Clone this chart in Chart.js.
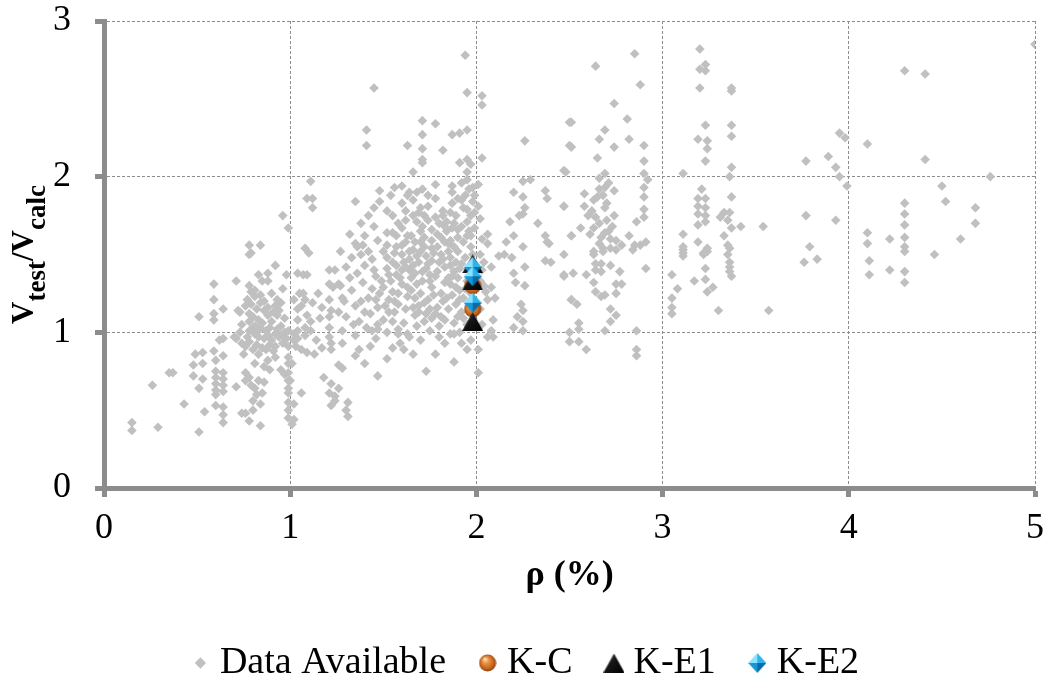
<!DOCTYPE html>
<html>
<head>
<meta charset="utf-8">
<title>Vtest/Vcalc vs ρ</title>
<script src="https://cdn.jsdelivr.net/npm/chart.js@4.4.1/dist/chart.umd.min.js"></script>
<style>
    html, body { margin: 0; padding: 0; background: #fff; }
    canvas { display: block; }
</style>
</head>
<body>
<canvas id="chart" width="1053" height="688"></canvas>
<script>
// Data Available: [rho (%), Vtest/Vcalc], split by rho band
const availRhoBelow1 = [
    [0.15, 0.42], [0.15, 0.37], [0.29, 0.39], [0.26, 0.66], [0.35, 0.74], [0.37, 0.74], [0.43, 0.54],
    [0.51, 0.36], [0.49, 0.86], [0.53, 0.87], [0.48, 0.79], [0.53, 0.80], [0.48, 0.72], [0.53, 0.70],
    [0.51, 0.64], [0.54, 0.49], [0.51, 1.10], [0.59, 1.31], [0.59, 1.21], [0.59, 1.12], [0.59, 1.08],
    [0.64, 1.15], [0.59, 0.88], [0.60, 0.82], [0.60, 0.75], [0.60, 0.71], [0.60, 0.67], [0.60, 0.63],
    [0.60, 0.60], [0.64, 0.74], [0.64, 0.70], [0.64, 0.66], [0.64, 0.62], [0.64, 0.52], [0.64, 0.47],
    [0.64, 0.42], [0.60, 0.53], [0.62, 0.95], [0.64, 0.96], [0.64, 0.85],
    [0.71, 0.96], [0.71, 0.65], [0.73, 1.13], [0.75, 0.86], [0.74, 0.48], [0.71, 1.33], [0.78, 1.50],
    [0.78, 1.56], [0.84, 1.56], [0.79, 1.51], [0.96, 1.75], [0.99, 1.67],
    [0.92, 1.43], [0.88, 1.38], [0.83, 1.37], [0.85, 1.33], [0.88, 1.33], [0.98, 1.37],
    [0.78, 1.30], [0.81, 1.27], [0.77, 1.21], [0.81, 1.23], [0.84, 1.24], [0.79, 1.18], [0.82, 1.15],
    [0.93, 1.21], [0.95, 1.19], [0.92, 1.17],
    [0.72, 1.14], [0.78, 1.12], [0.80, 1.10], [0.83, 1.08], [0.86, 1.14], [0.88, 1.11], [0.93, 1.11],
    [0.94, 1.14], [0.90, 1.07], [0.78, 1.07], [0.85, 1.06],
    [0.74, 1.05], [0.78, 1.01], [0.81, 0.99], [0.83, 1.01], [0.87, 1.01], [0.92, 0.99], [0.95, 0.98],
    [0.99, 1.01], [0.70, 0.97], [0.74, 0.93], [0.78, 0.94], [0.83, 0.97], [0.86, 0.96], [0.90, 0.95],
    [0.94, 0.97], [0.98, 0.96],
    [0.76, 0.91], [0.80, 0.89], [0.83, 0.86], [0.87, 0.89], [0.92, 0.91], [0.99, 0.91], [0.88, 0.82],
    [0.81, 0.80], [0.86, 0.78], [0.89, 0.76], [0.95, 0.76], [0.97, 0.73], [0.92, 0.84],
    [0.76, 0.74], [0.78, 0.71], [0.76, 0.69], [0.83, 0.69], [0.81, 0.64], [0.85, 0.61], [0.80, 0.56],
    [0.84, 0.54], [0.80, 0.50], [0.76, 0.48], [0.78, 0.43], [0.84, 0.40], [0.82, 0.60], [0.79, 0.66],
    [0.86, 0.68],
    [0.99, 0.84], [0.99, 0.80], [0.99, 0.74], [0.99, 0.69], [0.99, 0.64], [0.99, 0.61], [0.99, 0.55],
    [0.99, 0.50], [0.99, 0.45],
    [0.76, 1.17], [0.90, 1.25], [0.96, 1.28], [0.86, 1.20], [0.97, 1.09], [0.89, 1.03], [0.95, 1.04],
    [0.73, 1.00], [0.81, 1.04], [0.91, 0.88],
    [0.79, 1.26], [0.84, 1.19], [0.88, 1.16], [0.91, 1.13], [0.80, 1.03], [0.84, 1.03], [0.88, 0.98],
    [0.93, 1.02], [0.97, 1.00], [0.77, 0.97], [0.82, 0.92], [0.85, 0.90], [0.89, 0.92], [0.96, 0.93],
];

const availRho1to2 = [
    [1.02, 1.21], [1.05, 1.25], [1.07, 1.25], [1.08, 1.21], [1.06, 1.17], [1.04, 1.15], [1.12, 1.19],
    [1.04, 1.38], [1.07, 1.37], [1.09, 1.37], [1.08, 1.54], [1.10, 1.51], [1.11, 1.97], [1.09, 1.86],
    [1.12, 1.86], [1.12, 1.80],
    [1.09, 1.11], [1.11, 1.07], [1.08, 1.03], [1.04, 1.08], [1.02, 0.99], [1.04, 1.01], [1.02, 0.95],
    [1.04, 0.96], [1.08, 0.98], [1.11, 1.01], [1.03, 0.91], [1.06, 0.89], [1.09, 0.87], [1.13, 0.86],
    [1.01, 0.80], [1.00, 0.69], [1.06, 0.61], [1.02, 0.54], [1.02, 0.44], [1.01, 0.41],
    [1.21, 1.40], [1.21, 1.31], [1.23, 1.29], [1.21, 1.21], [1.22, 1.14], [1.21, 1.10], [1.21, 1.03],
    [1.21, 0.97], [1.22, 0.93], [1.22, 0.89], [1.26, 0.79], [1.22, 0.67], [1.21, 0.61], [1.22, 0.53],
    [1.26, 0.64], [1.26, 1.31], [1.28, 1.22], [1.26, 1.13],
    [1.15, 1.25], [1.17, 1.16], [1.16, 1.09], [1.14, 0.95], [1.17, 0.90], [1.18, 0.71], [1.24, 0.59],
    [1.28, 0.77], [1.30, 0.50], [1.31, 0.46], [1.31, 0.55], [1.24, 0.56],
    [1.45, 2.57], [1.41, 2.30], [1.41, 2.20], [1.71, 2.36], [1.78, 2.34], [1.71, 2.27], [1.87, 2.27],
    [1.91, 2.28], [1.95, 2.30], [1.63, 2.20], [1.71, 2.18], [1.71, 2.11], [1.71, 2.09], [1.82, 2.17],
    [1.66, 2.03], [1.91, 2.09], [1.95, 2.11], [1.97, 2.08], [1.94, 2.78], [1.95, 2.54],
    [1.48, 1.91], [1.56, 1.93], [1.54, 1.88], [1.48, 1.84], [1.63, 1.88], [1.66, 1.85], [1.60, 1.83],
    [1.62, 1.78], [1.71, 1.92], [1.78, 1.86], [1.35, 1.84], [1.52, 1.78], [1.55, 1.75], [1.82, 1.75],
    [1.68, 1.71], [1.71, 1.68], [1.32, 1.63], [1.35, 1.57], [1.39, 1.56], [1.47, 1.59], [1.52, 1.56],
    [1.55, 1.64], [1.60, 1.67], [1.63, 1.62], [1.67, 1.58], [1.72, 1.61], [1.76, 1.54], [1.79, 1.63],
    [1.85, 1.57], [1.90, 1.61], [1.95, 1.62],
    [1.95, 2.03], [1.95, 1.98], [1.96, 1.92], [1.94, 1.88], [1.92, 1.85], [1.95, 1.79], [1.97, 1.75],
    [1.95, 1.71], [1.99, 1.77], [1.87, 1.94], [1.87, 1.90], [1.87, 1.83], [1.90, 1.86], [1.86, 1.77],
    [1.89, 1.75], [1.84, 1.71], [1.87, 1.67], [1.99, 1.67],
    [1.58, 1.70], [1.62, 1.72], [1.66, 1.75], [1.70, 1.80], [1.74, 1.72], [1.76, 1.66], [1.80, 1.70],
    [1.82, 1.78], [1.68, 1.90], [1.60, 1.94], [1.64, 1.90], [1.74, 1.88], [1.78, 1.95], [1.92, 1.96],
    [1.98, 1.93], [1.99, 1.88], [1.98, 1.84], [1.93, 1.80], [1.96, 1.65], [1.92, 1.68], [1.88, 1.70],
    [1.84, 1.65], [1.70, 1.65], [1.72, 1.75],
    [1.27, 1.52], [1.33, 1.48], [1.38, 1.50], [1.44, 1.47], [1.50, 1.52], [1.55, 1.45], [1.60, 1.50],
    [1.64, 1.47], [1.70, 1.52], [1.76, 1.46], [1.81, 1.50], [1.86, 1.48], [1.90, 1.52],
    [1.24, 1.40], [1.30, 1.42], [1.36, 1.38], [1.40, 1.43], [1.46, 1.36], [1.52, 1.41], [1.57, 1.37],
    [1.62, 1.42], [1.67, 1.38], [1.73, 1.41], [1.78, 1.36], [1.83, 1.42], [1.88, 1.39], [1.92, 1.44],
    [1.27, 1.30], [1.33, 1.27], [1.39, 1.32], [1.44, 1.28], [1.49, 1.33], [1.55, 1.26], [1.60, 1.31],
    [1.65, 1.27], [1.71, 1.33], [1.76, 1.29], [1.81, 1.25], [1.86, 1.31], [1.91, 1.27],
    [1.29, 1.20], [1.35, 1.17], [1.42, 1.22], [1.47, 1.16], [1.53, 1.21], [1.58, 1.18], [1.63, 1.23],
    [1.69, 1.17], [1.74, 1.21], [1.79, 1.16], [1.84, 1.22], [1.89, 1.18],
    [1.30, 1.10], [1.37, 1.07], [1.43, 1.12], [1.50, 1.08], [1.56, 1.13], [1.61, 1.06], [1.67, 1.11],
    [1.72, 1.07], [1.78, 1.12], [1.83, 1.08], [1.90, 1.10],
    [1.28, 1.01], [1.35, 0.98], [1.41, 1.03], [1.46, 0.96], [1.52, 1.00], [1.58, 1.02], [1.64, 0.97],
    [1.75, 1.01], [1.86, 0.99],
    [1.44, 1.01], [1.47, 1.02], [1.37, 0.89], [1.28, 0.93], [1.43, 0.91], [1.58, 0.99], [1.63, 0.99],
    [1.83, 0.93], [1.88, 0.99], [1.76, 1.09], [1.69, 1.13], [1.53, 1.13], [1.61, 0.89], [1.47, 0.72],
    [1.73, 0.75], [1.88, 0.81], [1.95, 0.89],
    [1.52, 1.48], [1.57, 1.55], [1.62, 1.58], [1.66, 1.53], [1.69, 1.45], [1.73, 1.49], [1.79, 1.55],
    [1.83, 1.58], [1.88, 1.55], [1.93, 1.58], [1.97, 1.55], [1.94, 1.48], [1.96, 1.40], [1.95, 1.33],
    [1.93, 1.22], [1.96, 1.15], [1.95, 1.05], [1.91, 1.00], [1.85, 1.35], [1.80, 1.45], [1.75, 1.37],
    [1.70, 1.25], [1.65, 1.35], [1.58, 1.25], [1.62, 1.15], [1.68, 1.04], [1.75, 1.15], [1.80, 1.04],
    [1.85, 1.15], [1.90, 1.35], [1.92, 1.13], [1.86, 1.43], [1.72, 1.55], [1.66, 1.43], [1.60, 1.40],
    [1.54, 1.33], [1.48, 1.25], [1.45, 1.40], [1.42, 1.52], [1.36, 1.55], [1.32, 1.35], [1.38, 1.20],
    [1.34, 1.05], [1.40, 1.13], [1.47, 1.05], [1.55, 1.07], [1.59, 0.93], [1.70, 0.95], [1.80, 0.97],
    [1.97, 0.95], [1.97, 1.25], [1.98, 1.50], [1.97, 1.62], [1.52, 1.64], [1.45, 1.68], [1.57, 1.62],
    [1.40, 1.62], [1.42, 1.75], [1.38, 1.70], [1.45, 1.80],
    [1.35, 0.85], [1.40, 0.80], [1.52, 0.83], [1.55, 0.90], [1.66, 0.86], [1.78, 0.86], [1.92, 0.93],
    [1.64, 1.52], [1.68, 1.49], [1.74, 1.44], [1.77, 1.51], [1.82, 1.47], [1.85, 1.52], [1.89, 1.45],
    [1.91, 1.41], [1.87, 1.36], [1.83, 1.32], [1.79, 1.39], [1.75, 1.33], [1.71, 1.39], [1.68, 1.31],
    [1.64, 1.40], [1.61, 1.45], [1.57, 1.43], [1.59, 1.35], [1.63, 1.29], [1.67, 1.22], [1.72, 1.19],
    [1.77, 1.24], [1.82, 1.20], [1.87, 1.24], [1.91, 1.21], [1.94, 1.28], [1.89, 1.29], [1.86, 1.59],
    [1.81, 1.61], [1.76, 1.59], [1.70, 1.58], [1.65, 1.62], [1.60, 1.56], [1.56, 1.51], [1.53, 1.37],
    [1.50, 1.29], [1.46, 1.21], [1.51, 1.17], [1.56, 1.20], [1.66, 1.16], [1.73, 1.12], [1.81, 1.10],
    [1.88, 1.06], [1.93, 1.09], [1.90, 1.66], [1.83, 1.68], [1.78, 1.74], [1.74, 1.81], [1.69, 1.77],
];

const availRho2to3 = [
    [2.03, 2.52], [2.03, 2.46], [2.03, 2.12], [2.26, 2.23], [2.50, 2.35], [2.50, 2.20], [2.48, 2.03],
    [2.25, 1.97], [2.29, 1.98], [2.20, 1.90], [2.25, 1.87], [2.26, 1.80], [2.23, 1.75], [2.25, 1.76],
    [2.18, 1.71], [2.33, 1.70], [2.37, 1.91], [2.38, 1.86], [2.47, 1.81], [2.37, 1.62], [2.38, 1.58],
    [2.51, 1.62],
    [2.01, 1.81], [2.02, 1.73], [2.06, 1.63], [2.06, 1.57], [2.16, 1.58], [2.20, 1.62], [2.25, 1.55],
    [2.39, 1.57], [2.47, 1.50],
    [2.08, 1.42], [2.08, 1.29], [2.10, 1.22], [2.06, 1.21], [2.09, 1.08], [2.08, 1.01], [2.09, 0.97],
    [2.06, 0.97], [2.15, 1.50], [2.19, 1.48], [2.12, 1.49], [2.20, 1.38], [2.26, 1.42], [2.21, 1.32],
    [2.26, 1.30], [2.24, 1.18], [2.25, 1.14], [2.22, 1.10], [2.25, 1.07], [2.25, 1.01], [2.20, 1.03],
    [2.47, 1.37], [2.51, 1.21], [2.40, 1.45], [2.37, 1.46],
    [2.03, 1.40], [2.02, 1.33], [2.04, 1.30], [2.05, 1.26], [2.02, 1.15], [2.03, 1.05], [2.01, 0.89],
    [2.01, 0.74], [2.03, 1.60], [2.02, 1.50], [2.04, 1.45], [2.01, 1.95],
    [2.66, 1.99], [2.69, 1.93], [2.71, 1.96], [2.66, 1.92], [2.74, 1.91], [2.58, 1.89], [2.65, 1.87],
    [2.63, 1.85], [2.69, 1.80], [2.58, 1.81], [2.47, 1.81], [2.60, 1.75], [2.64, 1.74], [2.74, 1.75],
    [2.90, 1.93], [2.90, 1.87], [2.90, 1.79], [2.90, 1.74], [2.86, 1.71], [2.56, 1.67], [2.63, 1.67],
    [2.66, 1.70], [2.69, 1.64], [2.71, 1.65], [2.51, 1.62], [2.82, 1.62], [2.67, 1.61], [2.72, 1.60],
    [2.75, 1.59], [2.78, 1.56], [2.85, 1.56], [2.88, 1.56], [2.91, 1.58], [2.63, 1.52], [2.68, 1.54],
    [2.72, 1.54],
    [2.85, 2.79], [2.64, 2.71], [2.88, 2.59], [2.74, 2.47], [2.51, 2.35], [2.81, 2.37], [2.69, 2.30],
    [2.66, 2.24], [2.82, 2.24], [2.51, 2.19], [2.74, 2.19], [2.90, 2.20], [2.65, 2.12], [2.90, 2.10],
    [2.47, 2.04], [2.69, 2.02], [2.90, 2.02], [2.92, 1.98],
    [2.63, 1.50], [2.68, 1.52], [2.75, 1.53], [2.84, 1.53], [2.52, 1.38], [2.47, 1.36], [2.59, 1.37],
    [2.64, 1.44], [2.67, 1.44], [2.72, 1.43], [2.64, 1.40], [2.67, 1.39], [2.77, 1.39], [2.91, 1.41],
    [2.63, 1.32], [2.75, 1.31], [2.78, 1.31], [2.75, 1.25], [2.64, 1.26], [2.67, 1.23], [2.69, 1.24],
    [2.51, 1.21], [2.54, 1.18], [2.72, 1.15], [2.75, 1.11], [2.72, 1.07], [2.69, 1.01], [2.55, 1.06],
    [2.55, 1.02], [2.50, 1.00], [2.50, 0.94], [2.55, 0.94], [2.59, 0.89], [2.86, 1.01], [2.86, 0.89],
    [2.86, 0.85],
    [2.62, 1.78], [2.70, 1.72], [2.68, 1.88], [2.61, 1.63], [2.73, 1.68], [2.66, 1.57], [2.70, 1.83],
];

const availRhoAbove3 = [
    [3.20, 2.82], [3.23, 2.72], [3.20, 2.69], [3.23, 2.68], [3.20, 2.57], [3.37, 2.57], [3.37, 2.55],
    [3.23, 2.33], [3.37, 2.33], [3.37, 2.26], [3.19, 2.24], [3.24, 2.23], [3.24, 2.18], [3.23, 2.10],
    [3.37, 2.06], [3.11, 2.02], [3.36, 2.00], [3.21, 1.92], [3.37, 1.87],
    [3.19, 1.86], [3.23, 1.86], [3.19, 1.81], [3.23, 1.80], [3.19, 1.76], [3.23, 1.75], [3.19, 1.69],
    [3.23, 1.71], [3.33, 1.77], [3.36, 1.77], [3.31, 1.74], [3.35, 1.72], [3.37, 1.67], [3.42, 1.68],
    [3.54, 1.68], [3.33, 1.62], [3.11, 1.63], [3.19, 1.58], [3.11, 1.55], [3.24, 1.54], [3.35, 1.56],
    [3.36, 1.54], [3.11, 1.51], [3.22, 1.51],
    [3.05, 1.37], [3.08, 1.28], [3.05, 1.22], [3.05, 1.16], [3.05, 1.12], [3.17, 1.33], [3.23, 1.41],
    [3.23, 1.34], [3.24, 1.26], [3.27, 1.29], [3.30, 1.14], [3.57, 1.14], [3.11, 1.53], [3.11, 1.49],
    [3.22, 1.50], [3.24, 1.52], [3.35, 1.50], [3.36, 1.45], [3.36, 1.42], [3.36, 1.39], [3.37, 1.36],
    [5.00, 2.85], [4.30, 2.68], [4.41, 2.66], [3.95, 2.28], [3.98, 2.25], [4.10, 2.21], [3.77, 2.10],
    [3.89, 2.13], [4.41, 2.11], [3.93, 2.06], [3.95, 2.00], [4.76, 2.00], [3.99, 1.94], [4.50, 1.94],
    [4.30, 1.83], [4.52, 1.84], [4.68, 1.80], [3.77, 1.75], [3.93, 1.72], [4.30, 1.76], [4.30, 1.69],
    [4.68, 1.70], [4.10, 1.64], [4.10, 1.57], [4.22, 1.60], [4.30, 1.61], [4.30, 1.55], [4.60, 1.60],
    [3.79, 1.55], [4.46, 1.50],
    [3.76, 1.45], [3.83, 1.47], [4.11, 1.46], [4.11, 1.37], [4.22, 1.40], [4.30, 1.52], [4.30, 1.39],
    [4.30, 1.32],
];

// Test specimens, all at rho ≈ 1.98 %
const kcPoints = [[1.98, 1.30], [1.98, 1.15]];
const ke1Points = [[1.98, 1.44], [1.98, 1.33], [1.98, 1.07]];
const ke2Points = [[1.98, 1.42], [1.98, 1.36], [1.98, 1.19]];

const xTicks = [0, 1, 2, 3, 4, 5];
const yTicks = [0, 1, 2, 3];

// style constants
const FONT = "'Liberation Serif', 'Times New Roman', serif";
const AXIS_GREY = '#8c8c8c';
const PLOT_LEFT = 104;
const PLOT_BOTTOM = 488;
const LEGEND_NUDGE_Y = 4;
const LEGEND_NUDGE_X = 12;

const toXY = (pairs) => pairs.map(([x, y]) => ({ x, y }));

// Shaded marker images (Excel-style 3D markers)
function makeBall(d) {
    const c = document.createElement('canvas');
    c.width = c.height = d;
    const g = c.getContext('2d');
    const r = d / 2;
    const grad = g.createRadialGradient(r * 0.7, r * 0.55, 0.5, r, r, r);
    grad.addColorStop(0, '#fde2c4');
    grad.addColorStop(0.3, '#ee9548');
    grad.addColorStop(0.75, '#c4611b');
    grad.addColorStop(1, '#7a380a');
    g.fillStyle = grad;
    g.beginPath();
    g.arc(r, r, r - 0.5, 0, Math.PI * 2);
    g.fill();
    return c;
}

function makeTriangle(w, h) {
    const c = document.createElement('canvas');
    c.width = w;
    c.height = h;
    const g = c.getContext('2d');
    const grad = g.createLinearGradient(0, 0, w, h);
    grad.addColorStop(0, '#5c5c5c');
    grad.addColorStop(0.45, '#151515');
    grad.addColorStop(1, '#000');
    g.fillStyle = grad;
    g.beginPath();
    g.moveTo(w / 2, 0);
    g.lineTo(w, h);
    g.lineTo(0, h);
    g.closePath();
    g.fill();
    return c;
}

function makeGem(w, h) {
    const c = document.createElement('canvas');
    c.width = w;
    c.height = h;
    const g = c.getContext('2d');
    const cx = w / 2, cy = h / 2;
    const facets = [
        [[cx, 0], [0, cy], [cx, cy], '#8ee0ff'],
        [[cx, 0], [w, cy], [cx, cy], '#2cb4ec'],
        [[0, cy], [cx, h], [cx, cy], '#1698d6'],
        [[w, cy], [cx, h], [cx, cy], '#0a6ca6'],
    ];
    for (const [a, b, m, col] of facets) {
        g.fillStyle = col;
        g.beginPath();
        g.moveTo(a[0], a[1]);
        g.lineTo(b[0], b[1]);
        g.lineTo(m[0], m[1]);
        g.closePath();
        g.fill();
    }
    return c;
}

// y axis title with subscripts: V_test / V_calc
const yTitlePlugin = {
    id: 'yTitle',
    afterDraw(chart) {
        const ctx = chart.ctx;
        const parts = [
            { text: 'V', size: 31, dy: 0 },
            { text: 'test', size: 27, dy: 12 },
            { text: '/V', size: 31, dy: 0 },
            { text: 'calc', size: 27, dy: 12 },
        ];
        ctx.save();
        let total = 0;
        for (const p of parts) {
            ctx.font = `bold ${p.size}px ${FONT}`;
            p.w = ctx.measureText(p.text).width;
            total += p.w;
        }
        const cy = (chart.chartArea.top + chart.chartArea.bottom) / 2;
        ctx.translate(33, cy);
        ctx.rotate(-Math.PI / 2);
        ctx.fillStyle = '#000';
        ctx.textAlign = 'left';
        ctx.textBaseline = 'alphabetic';
        let x = -total / 2;
        for (const p of parts) {
            ctx.font = `bold ${p.size}px ${FONT}`;
            ctx.fillText(p.text, x, p.dy);
            x += p.w;
        }
        ctx.restore();
    },
};

// move the legend row a little lower and to the right, as in the source figure
const legendNudgePlugin = {
    id: 'legendNudge',
    afterLayout(chart) {
        const legend = chart.legend;
        if (!legend) return;
        legend.top += LEGEND_NUDGE_Y;
        legend.bottom += LEGEND_NUDGE_Y;
        legend.left += LEGEND_NUDGE_X;
        legend.right += LEGEND_NUDGE_X;
        (legend.legendHitBoxes || []).forEach((box) => {
            box.top += LEGEND_NUDGE_Y;
            box.left += LEGEND_NUDGE_X;
        });
    },
};

const tickFont = { family: FONT, size: 36 };

const grid = {
    color: AXIS_GREY,
    lineWidth: 1,
    drawTicks: true,
    tickLength: 9,
    tickWidth: 5,
    tickColor: AXIS_GREY,
    tickBorderDash: [],
};
const border = { display: true, color: AXIS_GREY, width: 5, dash: [3, 2] };

const datasets = [
    {
        label: 'Data Available',
        data: toXY([...availRhoBelow1, ...availRho1to2, ...availRho2to3, ...availRhoAbove3]),
        pointStyle: 'rectRot',
        pointRadius: 4.8,
        pointHoverRadius: 4.8,
        backgroundColor: '#c0c0c0',
        borderColor: '#c0c0c0',
        borderWidth: 0,
        pointBorderWidth: 0,
        order: 4,
    },
    {
        label: 'K-C',
        data: toXY(kcPoints),
        pointStyle: makeBall(18),
        pointRadius: 9,
        backgroundColor: '#d9731f',
        borderWidth: 0,
        order: 3,
    },
    {
        label: 'K-E1',
        data: toXY(ke1Points),
        pointStyle: makeTriangle(21, 19),
        pointRadius: 9,
        backgroundColor: '#000',
        borderWidth: 0,
        order: 2,
    },
    {
        label: 'K-E2',
        data: toXY(ke2Points),
        pointStyle: makeGem(18, 20),
        pointRadius: 9,
        backgroundColor: '#1aa6e0',
        borderWidth: 0,
        order: 1,
    },
];

const chart = new Chart(document.getElementById('chart'), {
    type: 'scatter',
    data: { datasets },
    options: {
        responsive: false,
        animation: false,
        events: [],
        layout: { padding: { left: 0, right: 18, top: 21, bottom: 0 } },
        plugins: {
            tooltip: { enabled: false },
            legend: {
                position: 'bottom',
                labels: {
                    usePointStyle: true,
                    boxWidth: 1,
                    boxHeight: 8,
                    padding: 41,
                    color: '#000',
                    font: { family: FONT, size: 38 },
                    sort: (a, b) => a.datasetIndex - b.datasetIndex,
                },
            },
        },
        scales: {
            x: {
                type: 'linear',
                min: xTicks[0],
                max: xTicks[xTicks.length - 1],
                afterBuildTicks: (scale) => { scale.ticks = xTicks.map((v) => ({ value: v })); },
                ticks: { color: '#000', font: tickFont, padding: 10, maxRotation: 0 },
                grid,
                border,
                title: {
                    display: true,
                    text: 'ρ (%)',
                    color: '#000',
                    font: { family: FONT, size: 36, weight: 'bold' },
                    padding: { top: 0, bottom: 2 },
                },
                afterFit: (scale) => {
                    scale.height = scale.chart.height - PLOT_BOTTOM - scale.chart.legend.height;
                    scale.paddingLeft = 0;
                    scale.paddingRight = 0;
                },
            },
            y: {
                type: 'linear',
                min: yTicks[0],
                max: yTicks[yTicks.length - 1],
                afterBuildTicks: (scale) => { scale.ticks = yTicks.map((v) => ({ value: v })); },
                ticks: { color: '#000', font: tickFont, padding: 24 },
                grid,
                border,
                afterFit: (scale) => {
                    scale.width = PLOT_LEFT;
                    scale.paddingTop = 0;
                    scale.paddingBottom = 0;
                },
            },
        },
    },
    plugins: [yTitlePlugin, legendNudgePlugin],
});
</script>
</body>
</html>
